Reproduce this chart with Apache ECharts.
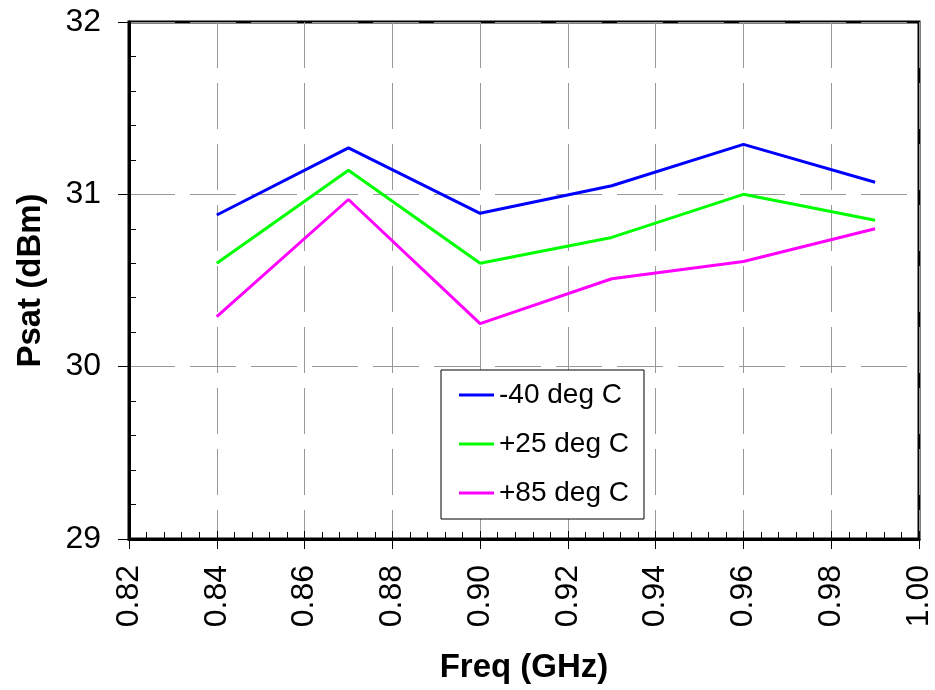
<!DOCTYPE html>
<html>
<head>
<meta charset="utf-8">
<script src="https://cdn.jsdelivr.net/npm/echarts@6/dist/echarts.min.js"></script>
<style>
html,body{margin:0;padding:0;background:#fff;}
#chart{width:935px;height:690px;}
</style>
</head>
<body>
<div id="chart"></div>
<script>
const freqs = [0.84, 0.87, 0.90, 0.93, 0.96, 0.99];
const seriesNames = ['-40 deg C', '+25 deg C', '+85 deg C'];
const psatM40 = [30.88, 31.27, 30.89, 31.05, 31.29, 31.07];
const psatP25 = [30.60, 31.14, 30.60, 30.75, 31.00, 30.85];
const psatP85 = [30.29, 30.97, 30.25, 30.51, 30.61, 30.80];
const seriesColors = ['#0000ff', '#00ff00', '#ff00ff'];

const FONT = '"Liberation Sans", Arial, Helvetica, sans-serif';
const chart = echarts.init(document.getElementById('chart'), null, {renderer: 'canvas'});

function pairs(vals) { return freqs.map((f, i) => [f, vals[i]]); }
const allVals = [psatM40, psatP25, psatP85];

const gridLine = {show: true, lineStyle: {color: '#999', width: 1, type: [46, 15]}};

chart.setOption({
  animation: false,
  backgroundColor: '#fff',
  grid: {left: 129, right: 15, top: 22, bottom: 151, show: true, borderColor: '#000', borderWidth: 3, backgroundColor: 'transparent'},
  legend: {
    left: 441, top: 370, orient: 'vertical',
    data: seriesNames,
    icon: 'rect',
    itemWidth: 35, itemHeight: 3, itemGap: 21,
    padding: [11, 15, 12, 18],
    borderColor: '#000', borderWidth: 1, backgroundColor: '#fff',
    textStyle: {fontFamily: FONT, fontSize: 28, color: '#000'}
  },
  xAxis: [{
    type: 'value', min: 0.82, max: 1.00, interval: 0.02,
    name: 'Freq (GHz)', nameLocation: 'middle', nameGap: 112,
    nameTextStyle: {fontFamily: FONT, fontSize: 33, fontWeight: 'bold', color: '#000'},
    axisLine: {show: true, onZero: false, lineStyle: {color: '#000', width: 3}},
    axisTick: {show: true, inside: false, length: 10, lineStyle: {color: '#000', width: 1}},
    minorTick: {show: true, splitNumber: 5, length: -7, lineStyle: {color: '#000', width: 1}},
    axisLabel: {rotate: 90, margin: 26, fontFamily: FONT, fontSize: 32, color: '#000',
      formatter: v => v.toFixed(2)},
    splitLine: gridLine
  }, {
    type: 'value', min: 0.82, max: 1.00, interval: 0.02, position: 'bottom', gridIndex: 0,
    axisLine: {show: false}, axisLabel: {show: false}, splitLine: {show: false},
    axisTick: {show: true, inside: true, length: 8, lineStyle: {color: '#000', width: 1}}
  }],
  yAxis: {
    type: 'value', min: 29, max: 32, interval: 1,
    name: 'Psat (dBm)', nameLocation: 'middle', nameGap: 82,
    nameTextStyle: {fontFamily: FONT, fontSize: 33, fontWeight: 'bold', color: '#000'},
    axisLine: {show: true, onZero: false, lineStyle: {color: '#000', width: 3}},
    axisTick: {show: true, inside: false, length: 11, lineStyle: {color: '#000', width: 1}},
    minorTick: {show: true, splitNumber: 5, length: -7, lineStyle: {color: '#000', width: 1}},
    axisLabel: {margin: 28, fontFamily: FONT, fontSize: 32, color: '#000'},
    splitLine: gridLine
  },
  series: seriesNames.map((n, i) => ({
    name: n, type: 'line', xAxisIndex: 0,
    data: pairs(allVals[i]),
    symbol: 'none', showSymbol: false,
    lineStyle: {color: seriesColors[i], width: 3},
    itemStyle: {color: seriesColors[i]}
  }))
});
</script>
</body>
</html>
